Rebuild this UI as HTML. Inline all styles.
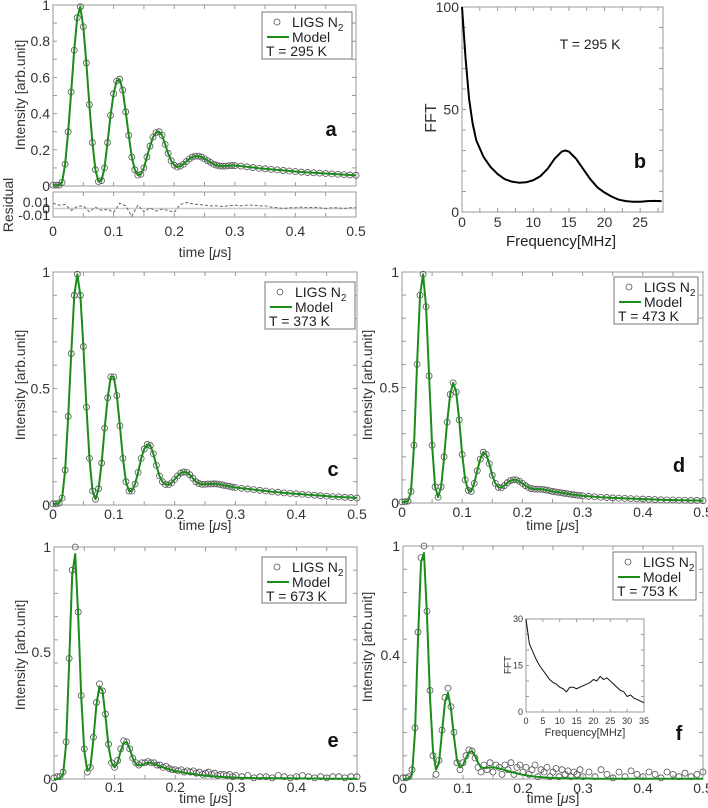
<!DOCTYPE html>
<html><head><meta charset="utf-8">
<style>
html,body{margin:0;padding:0;background:#fff;}
svg{display:block;font-family:"Liberation Sans",Arial,sans-serif;}
</style></head>
<body>
<svg id="fig" width="708" height="808" viewBox="0 0 708 808" xmlns="http://www.w3.org/2000/svg"></svg>
<script>
// ---------- data ----------
const timeGrid = [];
for (let i = 0; i <= 60; i++) timeGrid.push(+(i * 0.005).toFixed(3));
for (let i = 31; i <= 50; i++) timeGrid.push(i / 100);

const sigA = [0.005,0.005,0.005,0.02,0.12,0.3,0.52,0.75,0.93,0.99,
0.88,0.68,0.45,0.24,0.09,0.025,0.03,0.1,0.24,0.39,
0.51,0.58,0.59,0.53,0.41,0.28,0.16,0.09,0.06,0.065,
0.1,0.16,0.22,0.27,0.295,0.3,0.28,0.23,0.18,0.14,
0.115,0.105,0.11,0.12,0.135,0.15,0.16,0.165,0.165,0.16,
0.15,0.14,0.13,0.12,0.115,0.11,0.11,0.11,0.112,0.113,0.113,
0.11,0.106,0.102,0.098,0.095,0.092,0.089,0.086,0.083,0.08,0.077,0.075,0.073,0.071,0.069,0.067,0.065,0.063,0.061,0.059];

const residTimes = [];
for (let i = 0; i <= 50; i++) residTimes.push(i / 100);
const residA = [0.008,0.005,0.006,-0.003,0.003,0.004,-0.005,0.002,-0.003,-0.001,-0.006,0.008,0.004,-0.012,0.005,-0.005,0.001,-0.004,-0.001,-0.003,-0.006,0.006,0.009,0.007,0.006,0.005,0.004,0.004,0.003,0.004,0.005,0.004,0.005,0.005,0.004,0.004,0.002,0.001,0.0,0.001,0.001,0.002,0.001,0.002,0.001,0.0,0.001,0.001,0.0,0.001,0.001];

const sigC = [0.005,0.005,0.008,0.03,0.15,0.38,0.65,0.9,0.99,0.9,
0.68,0.42,0.2,0.06,0.025,0.07,0.18,0.33,0.46,0.55,
0.55,0.47,0.34,0.2,0.1,0.06,0.06,0.09,0.14,0.2,
0.24,0.26,0.255,0.22,0.17,0.125,0.1,0.088,0.087,0.095,
0.11,0.125,0.137,0.142,0.14,0.13,0.115,0.1,0.092,0.089,
0.089,0.09,0.09,0.091,0.09,0.088,0.085,0.082,0.08,0.077,0.075,
0.072,0.069,0.066,0.063,0.06,0.057,0.055,0.052,0.05,0.048,0.046,0.044,0.042,0.04,0.038,0.036,0.035,0.033,0.032,0.03];

const sigD = [0.005,0.005,0.008,0.05,0.25,0.6,0.9,0.99,0.85,0.55,
0.25,0.07,0.025,0.07,0.2,0.35,0.47,0.52,0.48,0.36,
0.21,0.1,0.055,0.05,0.085,0.14,0.19,0.22,0.21,0.17,
0.12,0.085,0.068,0.066,0.075,0.088,0.097,0.1,0.1,0.094,
0.085,0.075,0.067,0.062,0.06,0.06,0.06,0.058,0.056,0.053,
0.05,0.048,0.046,0.044,0.042,0.04,0.038,0.036,0.034,0.033,0.031,
0.029,0.027,0.025,0.024,0.022,0.021,0.02,0.019,0.018,0.017,0.016,0.015,0.014,0.013,0.013,0.012,0.012,0.011,0.011,0.01];

const modelE = [0,0,0.005,0.02,0.15,0.5,0.88,0.97,0.7,0.35,
0.12,0.035,0.05,0.17,0.32,0.4,0.38,0.27,0.14,0.07,
0.05,0.07,0.12,0.155,0.16,0.13,0.09,0.065,0.058,0.06,
0.066,0.07,0.07,0.066,0.06,0.055,0.05,0.046,0.042,0.038,
0.035,0.032,0.03,0.027,0.025,0.023,0.021,0.019,0.017,0.016,
0.014,0.013,0.012,0.011,0.01,0.009,0.008,0.008,0.007,0.006,0.006,
0.005,0.005,0.004,0.004,0.004,0.003,0.003,0.003,0.003,0.002,0.002,0.002,0.002,0.002,0.001,0.001,0.001,0.001,0.001,0.001];
const obsE = [0.005,0.01,0.01,0.03,0.16,0.52,0.9,1.0,0.72,0.36,
0.13,0.03,0.05,0.18,0.33,0.41,0.38,0.28,0.15,0.07,
0.05,0.08,0.13,0.165,0.16,0.13,0.09,0.07,0.06,0.07,
0.07,0.075,0.07,0.07,0.06,0.06,0.05,0.055,0.045,0.04,
0.04,0.035,0.04,0.03,0.035,0.03,0.035,0.025,0.03,0.02,
0.025,0.03,0.02,0.025,0.015,0.02,0.02,0.015,0.02,0.01,0.015,
0.01,0.015,0.005,0.01,0.01,0.005,0.015,0.01,0.005,0.01,0.015,0.01,0.005,0.01,0.005,0.01,0.01,0.005,0.01,0.01];

const modelF = [0,0,0.003,0.02,0.2,0.6,0.93,0.97,0.7,0.35,
0.12,0.04,0.07,0.2,0.33,0.37,0.3,0.18,0.08,0.05,
0.06,0.09,0.115,0.12,0.1,0.07,0.05,0.047,0.048,0.05,
0.05,0.048,0.045,0.042,0.038,0.034,0.03,0.027,0.024,0.021,
0.018,0.016,0.014,0.012,0.01,0.009,0.008,0.007,0.006,0.005,
0.005,0.004,0.004,0.003,0.003,0.003,0.002,0.002,0.002,0.002,0.002,
0.002,0.001,0.001,0.001,0.001,0.001,0.001,0.001,0.001,0.001,0.001,0.001,0.001,0.001,0.001,0.001,0.001,0.001,0.001,0.001];
const obsF = [0.005,0.005,0.01,0.04,0.22,0.63,0.95,1.0,0.72,0.38,
0.1,0.02,0.08,0.21,0.35,0.39,0.31,0.2,0.07,0.04,
0.07,0.1,0.125,0.12,0.09,0.05,0.03,0.06,0.04,0.07,
0.03,0.06,0.05,0.02,0.06,0.04,0.07,0.02,0.05,0.06,
0.03,0.05,0.02,0.04,0.06,0.01,0.04,0.03,0.05,0.01,
0.03,0.045,0.01,0.04,0.02,0.035,0.01,0.03,0.02,0.04,0.01,
0.03,0.01,0.04,0.02,0.005,0.03,0.01,0.035,0.02,0.01,0.03,0.02,0.005,0.03,0.02,0.01,0.025,0.01,0.02,0.03];

const fftBFreq = [0,0.5,1,1.5,2,3,4,5,6,7,8,9,10,11,12,13,14,14.5,15,16,17,18,19,20,21,22,23,24,25,26,27,28];
const fftBVal  = [100,75,55,43,35,27,22,18.5,16,14.8,14.3,14.5,15.5,17.5,21,26,29.5,30,29.5,26,21,16,12,9.5,7.5,6,5.3,5,5,5.3,5.4,5.3];

const fftFFreq = [0,1,2,3,4,5,6,7,8,9,10,11,12,13,14,15,16,17,18,19,20,21,22,23,24,25,26,27,28,29,30,31,32,33,34,35];
const fftFVal  = [30,22,19.5,17,15,13.5,12,10.5,9.5,9,8,7.5,6.5,8,8,7.5,8,8.5,9,9.5,10.5,10,11.5,10.5,11,10,9,8,7,6.5,5,5.5,4.5,4,3.5,3];

const timeTicks = [0,0.1,0.2,0.3,0.4,0.5];
const timeTickLabels = ["0","0.1","0.2","0.3","0.4","0.5"];

// ---------- helpers ----------
const NS = "http://www.w3.org/2000/svg";
const svg = document.getElementById('fig');
function mk(tag, attrs, parent, text) {
  const e = document.createElementNS(NS, tag);
  for (const k in attrs) e.setAttribute(k, attrs[k]);
  if (text !== undefined) e.textContent = text;
  (parent || svg).appendChild(e);
  return e;
}
function grp(name) {
  const g = document.createElementNS(NS, 'g');
  
  
  svg.appendChild(g);
  return g;
}
function axes(g, p) {
  const sx = v => p.l + (v - p.x0) / (p.x1 - p.x0) * (p.r - p.l);
  const sy = v => p.b - (v - p.y0) / (p.y1 - p.y0) * (p.b - p.t);
  const box = mk('rect', {x:p.l, y:p.t, width:p.r-p.l, height:p.b-p.t, fill:'none', stroke:'#9a9a9a', 'stroke-width':1}, g);
  
  
  const tl = p.tl || 4;
  if (p.xminor) for (let v = p.x0; v <= p.x1 + 1e-9; v += p.xminor) {
    const x = sx(v);
    mk('line', {x1:x, y1:p.b, x2:x, y2:p.b-tl, stroke:'#9a9a9a'}, g);
    mk('line', {x1:x, y1:p.t, x2:x, y2:p.t+tl, stroke:'#9a9a9a'}, g);
  }
  if (p.yminor) for (let v = p.y0; v <= p.y1 + 1e-9; v += p.yminor) {
    const y = sy(v);
    mk('line', {x1:p.l, y1:y, x2:p.l+tl, y2:y, stroke:'#9a9a9a'}, g);
    mk('line', {x1:p.r, y1:y, x2:p.r-tl, y2:y, stroke:'#9a9a9a'}, g);
  }
  if (p.xl) p.xt.forEach((v, i) => {
    const t = mk('text', {x:sx(v), y:p.xly, 'font-size':p.fs, fill:'#333', 'text-anchor':'middle'}, g, p.xl[i]);
    
    
  });
  if (p.yl) p.yt.forEach((v, i) => {
    const t = mk('text', {x:p.l-3, y:sy(v)+p.fs*0.36, 'font-size':p.fs, fill:'#333', 'text-anchor':'end'}, g, p.yl[i]);
    
    
  });
  return {sx, sy};
}
function line(g, xs, ys, s, color, w, dash, name) {
  const pts = xs.map((x, i) => s.sx(x).toFixed(2) + ',' + s.sy(ys[i]).toFixed(2)).join(' ');
  const a = {points:pts, fill:'none', stroke:color, 'stroke-width':w, 'stroke-linejoin':'round'};
  if (dash) a['stroke-dasharray'] = dash;
  const pl = mk('polyline', a, g);
  
  
}
function circles(g, xs, ys, s) {
  xs.forEach((x, i) => {
    const c = mk('circle', {cx:s.sx(x), cy:s.sy(ys[i]), r:3, fill:'none', stroke:'#555', 'stroke-width':0.8}, g);
    
    
  });
}
function ylabel(g, x, y, txt, fs) {
  const t = mk('text', {x:x, y:y, 'font-size':fs, fill:'#333', 'text-anchor':'middle', transform:'rotate(-90 '+x+' '+y+')'}, g, txt);
  
  
}
function timeLabel(g, x, y) {
  const t = mk('text', {x:x, y:y, 'font-size':14, fill:'#333', 'text-anchor':'middle'}, g);
  
  
  t.innerHTML = 'time [<tspan font-style="italic">μ</tspan>s]';
}
function legend(g, x, y, w, h, temp) {
  const lg = document.createElementNS(NS, 'g');
  
  
  g.appendChild(lg);
  mk('rect', {x:x, y:y, width:w, height:h, fill:'#fff', stroke:'#777', 'stroke-width':1}, lg);
  mk('circle', {cx:x+15, cy:y+10, r:3, fill:'none', stroke:'#555', 'stroke-width':0.8}, lg);
  const t1 = mk('text', {x:x+30, y:y+15, 'font-size':14, fill:'#222'}, lg);
  t1.innerHTML = 'LIGS N<tspan font-size="10" dy="4">2</tspan>';
  
  
  mk('line', {x1:x+5, y1:y+25, x2:x+27, y2:y+25, stroke:'#1b8c1b', 'stroke-width':2}, lg);
  const t2 = mk('text', {x:x+30, y:y+30, 'font-size':14, fill:'#222'}, lg, 'Model');
  
  
  const t3 = mk('text', {x:x+4, y:y+44, 'font-size':14, fill:'#222'}, lg, temp);
  
  
}
function letter(g, x, y, ch) {
  const t = mk('text', {x:x, y:y, 'font-size':20, 'font-weight':'bold', fill:'#111', 'text-anchor':'middle'}, g, ch);
  
  
}
const GREEN = '#1b8c1b';

// ---------- panel a ----------
(function(){
  const g = grp('panel-a');
  const s = axes(g, {l:53,t:5,r:356,b:186,x0:0,x1:0.5,y0:0,y1:1,xminor:0.05,yminor:0.1,
    yt:[0,0.2,0.4,0.6,0.8,1], yl:["0","0.2","0.4","0.6","0.8","1"], fs:14});
  circles(g, timeGrid, sigA, s);
  line(g, timeGrid, sigA, s, GREEN, 2, null, 'model-line');
  legend(g, 262, 12, 90, 47, 'T = 295 K');
  letter(g, 331, 136, 'a');
  ylabel(g, 25, 95, 'Intensity [arb.unit]', 14);
  const r = axes(g, {l:53,t:192,r:356,b:217,x0:0,x1:0.5,y0:-0.013,y1:0.025,xminor:0.05,
    xt:timeTicks, xl:timeTickLabels, xly:236, fs:14});
  mk('line', {x1:53, y1:r.sy(0), x2:356, y2:r.sy(0), stroke:'#ccc', 'stroke-width':1.5}, g);
  line(g, residTimes, residA, r, '#666', 1, '3,2', 'residual-line');
  [[0.01,'0.01'],[0,'0'],[-0.01,'-0.01']].forEach(([v,l]) => {
    const t = mk('text', {x:50, y:r.sy(v)+5, 'font-size':14, fill:'#333', 'text-anchor':'end'}, g, l);
    
    
  });
  ylabel(g, 13, 205, 'Residual', 14);
  timeLabel(g, 205, 257);
})();

// ---------- panel b ----------
(function(){
  const g = grp('panel-b');
  const s = axes(g, {l:462,t:7,r:663,b:212,x0:0,x1:28.2,y0:0,y1:100,xminor:2.5,yminor:10,
    xt:[0,5,10,15,20,25], xl:["0","5","10","15","20","25"], xly:227,
    yt:[0,50,100], yl:["0","50","100"], fs:14});
  line(g, fftBFreq, fftBVal, s, '#000', 2, null, 'fft-line');
  const t = mk('text', {x:590, y:49, 'font-size':14, fill:'#222', 'text-anchor':'middle'}, g, 'T = 295 K');
  
  
  letter(g, 640, 168, 'b');
  ylabel(g, 436, 118, 'FFT', 16);
  const xt = mk('text', {x:561, y:246, 'font-size':15, fill:'#222', 'text-anchor':'middle'}, g, 'Frequency[MHz]');
  
  
})();

// ---------- panels c,d,e ----------
function timePanel(name, box, sig, obs, leg, temp, let, lpos, ylx, yly, xly, tly, ytk, ylab) {
  const g = grp(name);
  const s = axes(g, Object.assign({x0:0,x1:0.5,y0:0,y1:1,xminor:0.05,yminor:0.1,
    xt:timeTicks, xl:timeTickLabels, xly:xly, yt:ytk, yl:ylab, fs:14}, box));
  circles(g, timeGrid, obs, s);
  line(g, timeGrid, sig, s, GREEN, 2, null, 'model-line');
  legend(g, leg[0], leg[1], leg[2], leg[3], temp);
  letter(g, lpos[0], lpos[1], let);
  ylabel(g, ylx, yly, 'Intensity [arb.unit]', 14);
  timeLabel(g, (box.l + box.r) / 2, tly);
  return {g, s};
}
timePanel('panel-c', {l:53,t:272,r:357,b:505}, sigC, sigC, [265,282,90,47], 'T = 373 K', 'c', [333,476], 25, 385, 519, 530, [0,0.5,1], ["0","0.5","1"]);
timePanel('panel-d', {l:402,t:272,r:703,b:503}, sigD, sigD, [614,277,84,47], 'T = 473 K', 'd', [679,472], 372, 385, 517, 530, [0,0.5,1], ["0","0.5","1"]);
timePanel('panel-e', {l:54,t:547,r:357,b:779}, modelE, obsE, [262,557,84,46], 'T = 673 K', 'e', [333,747], 25, 655, 792, 803, [0,0.547,1], ["0","0.5","1"]);
const pf = timePanel('panel-f', {l:403,t:546,r:703,b:779}, modelF, obsF, [613,552,83,48], 'T = 753 K', 'f', [679,740], 372, 647, 793, 803, [0,0.532,1], ["0","0.4","1"]);

// ---------- inset in f ----------
(function(){
  const g = grp('inset-fft');
  mk('rect', {x:526, y:619, width:118, height:93, fill:'#fff'}, g);
  const s = axes(g, {l:526,t:619,r:644,b:712,x0:0,x1:35,y0:0,y1:30,xminor:5,yminor:5,tl:3,
    xt:[0,5,10,15,20,25,30,35], xl:["0","5","10","15","20","25","30","35"], xly:724,
    yt:[0,15,30], yl:["0","15","30"], fs:9});
  line(g, fftFFreq, fftFVal, s, '#111', 1, null, 'inset-fft-line');
  const t = mk('text', {x:585, y:736, 'font-size':11, fill:'#333', 'text-anchor':'middle'}, g, 'Frequency[MHz]');
  
  
  ylabel(g, 511, 665, 'FFT', 10);
})();
</script>
</body></html>
